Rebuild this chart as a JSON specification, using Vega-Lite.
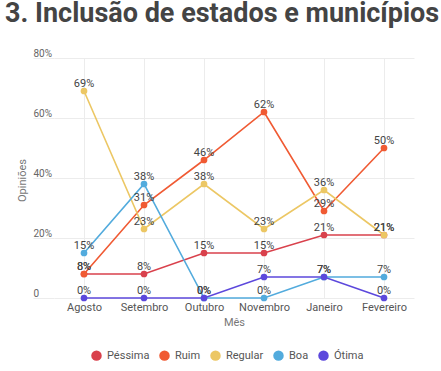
{
  "$schema": "https://vega.github.io/schema/vega-lite/v6.json",
  "width": 360,
  "height": 240,
  "autosize": "none",
  "padding": {"left": 54, "top": 58, "right": 27, "bottom": 73},
  "background": "white",
  "config": {"font": "Roboto", "view": {"stroke": null}},
  "title": {
    "text": "3. Inclusão de estados e municípios",
    "anchor": "start",
    "frame": "group",
    "font": "Roboto",
    "fontSize": 27,
    "fontWeight": "bold",
    "color": "#444444",
    "baseline": "alphabetic",
    "dx": -49,
    "dy": 1,
    "offset": 0
  },
  "data": {
    "values": [
      {"mes": "Agosto", "cat": "Péssima", "v": 8},
      {"mes": "Setembro", "cat": "Péssima", "v": 8},
      {"mes": "Outubro", "cat": "Péssima", "v": 15},
      {"mes": "Novembro", "cat": "Péssima", "v": 15},
      {"mes": "Janeiro", "cat": "Péssima", "v": 21},
      {"mes": "Fevereiro", "cat": "Péssima", "v": 21},
      {"mes": "Agosto", "cat": "Ruim", "v": 8},
      {"mes": "Setembro", "cat": "Ruim", "v": 31},
      {"mes": "Outubro", "cat": "Ruim", "v": 46},
      {"mes": "Novembro", "cat": "Ruim", "v": 62},
      {"mes": "Janeiro", "cat": "Ruim", "v": 29},
      {"mes": "Fevereiro", "cat": "Ruim", "v": 50},
      {"mes": "Agosto", "cat": "Regular", "v": 69},
      {"mes": "Setembro", "cat": "Regular", "v": 23},
      {"mes": "Outubro", "cat": "Regular", "v": 38},
      {"mes": "Novembro", "cat": "Regular", "v": 23},
      {"mes": "Janeiro", "cat": "Regular", "v": 36},
      {"mes": "Fevereiro", "cat": "Regular", "v": 21},
      {"mes": "Agosto", "cat": "Boa", "v": 15},
      {"mes": "Setembro", "cat": "Boa", "v": 38},
      {"mes": "Outubro", "cat": "Boa", "v": 0},
      {"mes": "Novembro", "cat": "Boa", "v": 0},
      {"mes": "Janeiro", "cat": "Boa", "v": 7},
      {"mes": "Fevereiro", "cat": "Boa", "v": 7},
      {"mes": "Agosto", "cat": "Ótima", "v": 0},
      {"mes": "Setembro", "cat": "Ótima", "v": 0},
      {"mes": "Outubro", "cat": "Ótima", "v": 0},
      {"mes": "Novembro", "cat": "Ótima", "v": 7},
      {"mes": "Janeiro", "cat": "Ótima", "v": 7},
      {"mes": "Fevereiro", "cat": "Ótima", "v": 0}
    ]
  },
  "encoding": {
    "x": {
      "field": "mes",
      "type": "ordinal",
      "sort": ["Agosto", "Setembro", "Outubro", "Novembro", "Janeiro", "Fevereiro"],
      "scale": {"type": "point", "padding": 0.5},
      "axis": {
        "title": "Mês",
        "labelAngle": 0,
        "labelFont": "Roboto",
        "labelFontSize": 11,
        "labelColor": "#555555",
        "labelPadding": 3,
        "ticks": false,
        "domain": false,
        "grid": true,
        "gridColor": "#ececec",
        "titleFont": "Roboto",
        "titleFontSize": 11,
        "titleFontWeight": "normal",
        "titleColor": "#777777",
        "titlePadding": 4
      }
    },
    "y": {
      "field": "v",
      "type": "quantitative",
      "scale": {"domain": [0, 80]},
      "axis": {
        "title": "Opiniões",
        "values": [0, 20, 40, 60, 80],
        "labelExpr": "datum.value == 0 ? '0' : datum.value + '%'",
        "labelAlign": "left",
        "labelBaseline": "alphabetic",
        "labelOffset": -2,
        "labelPadding": 0,
        "labelFont": "Roboto",
        "labelFontSize": 10,
        "labelColor": "#666666",
        "ticks": true,
        "tickSize": 21,
        "tickColor": "#ececec",
        "domain": false,
        "grid": true,
        "gridColor": "#ececec",
        "titleFont": "Roboto",
        "titleFontSize": 11,
        "titleFontWeight": "normal",
        "titleColor": "#777777",
        "titleAngle": -90,
        "titleAlign": "center",
        "titleBaseline": "middle",
        "titleX": -32,
        "titleY": 122
      }
    },
    "color": {
      "field": "cat",
      "type": "nominal",
      "scale": {
        "domain": ["Péssima", "Ruim", "Regular", "Boa", "Ótima"],
        "range": ["#d9414c", "#f05a33", "#ecc764", "#52abdd", "#5c48dc"]
      },
      "legend": {
        "title": null,
        "orient": "none",
        "direction": "horizontal",
        "legendX": 37,
        "legendY": 292,
        "symbolType": "circle",
        "symbolSize": 110,
        "symbolStrokeWidth": 0,
        "labelFont": "Roboto",
        "labelFontSize": 11,
        "labelColor": "#555555",
        "labelOffset": 5,
        "columnPadding": 9
      }
    }
  },
  "layer": [
    {
      "mark": {"type": "line", "strokeWidth": 1.6, "point": {"filled": true, "size": 45, "opacity": 1}}
    },
    {
      "mark": {"type": "text", "baseline": "alphabetic", "dy": -4, "fontSize": 11, "font": "Roboto", "text": {"expr": "datum.v + '%'"}},
      "encoding": {"color": {"value": "#444444"}}
    }
  ]
}
